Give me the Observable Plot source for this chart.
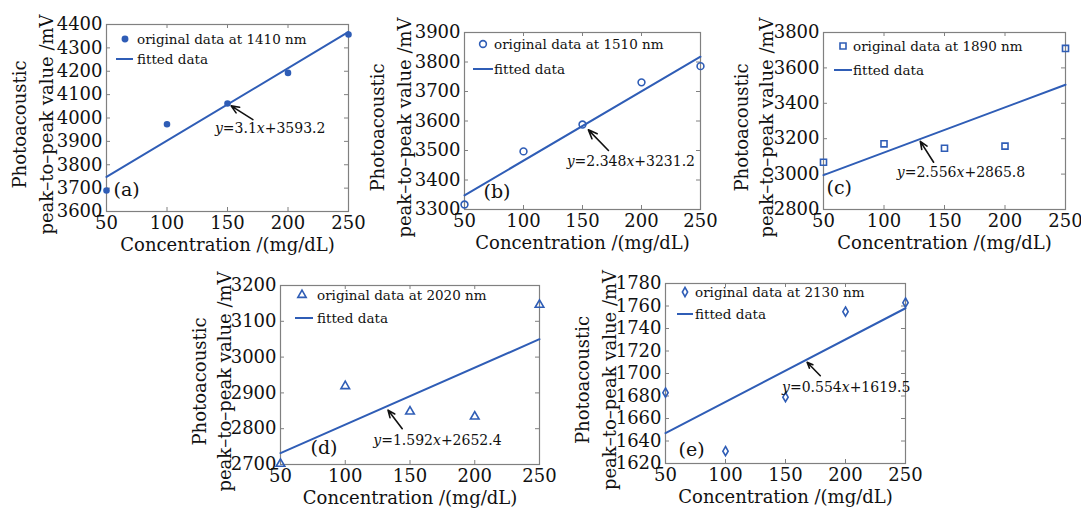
<!DOCTYPE html>
<html>
<head>
<meta charset="utf-8">
<script src="https://cdn.jsdelivr.net/npm/d3@7"></script>
<script src="https://cdn.jsdelivr.net/npm/@observablehq/plot@0.6"></script>
<style>
  html, body { margin: 0; padding: 0; background: #fff; }
  #wrap { position: relative; width: 1081px; height: 515px; overflow: hidden; background: #fff; }
  #wrap > div, #wrap > svg { position: absolute; }
</style>
</head>
<body>
<div id="wrap"></div>
<script>
// ---------------- data ----------------
const concentrations = [50, 100, 150, 200, 250];

const values1410 = [3690, 3973, 4062, 4193, 4357];
const values1510 = [3317, 3497, 3588, 3731, 3786];
const values1890 = [3067, 3171, 3146, 3158, 3710];
const values2020 = [2702, 2919, 2848, 2834, 3146];
const values2130 = [1683, 1631, 1679, 1755, 1763];

// fitted line end values (at 50 and 250 mg/dL)
const fitEnds = [50, 250];
const fit1410 = [3748, 4368];
const fit1510 = [3348, 3818];
const fit1890 = [2994, 3505];
const fit2020 = [2732, 3050];
const fit2130 = [1647, 1758];

const wavelengths = ["1410", "1510", "1890", "2020", "2130"];
const panelLetters = ["(a)", "(b)", "(c)", "(d)", "(e)"];
const equations = [
  ["y", "=3.1", "x", "+3593.2"],
  ["y", "=2.348", "x", "+3231.2"],
  ["y", "=2.556", "x", "+2865.8"],
  ["y", "=1.592", "x", "+2652.4"],
  ["y", "=0.554", "x", "+1619.5"]
];
// annotation: [tail x, tail y, tip x, tip y, text x, text y] in data units
const arrows = [
  [171, 3993, 153, 4052, 140, 3955],
  [172, 3500, 155, 3570, 137, 3463],
  [141, 3067, 130, 3185, 111, 3009],
  [144, 2800, 133, 2852, 122, 2767],
  [179, 1698, 168, 1710, 147.5, 1687.5]
];
const yTicks1410 = [3600, 3700, 3800, 3900, 4000, 4100, 4200, 4300, 4400];
const yTicks1510 = [3300, 3400, 3500, 3600, 3700, 3800, 3900];
const yTicks1890 = [2800, 3000, 3200, 3400, 3600, 3800];
const yTicks2020 = [2700, 2800, 2900, 3000, 3100, 3200];
const yTicks2130 = [1620, 1640, 1660, 1680, 1700, 1720, 1740, 1760, 1780];
const xTicks = [50, 100, 150, 200, 250];

const yTitleLines = ["Photoacoustic", "peak–to–peak value /mV"];
const xTitle = "Concentration /(mg/dL)";

const seriesValues = [values1410, values1510, values1890, values2020, values2130];
const seriesFits = [fit1410, fit1510, fit1890, fit2020, fit2130];
const seriesYTicks = [yTicks1410, yTicks1510, yTicks1890, yTicks2020, yTicks2130];
const symbols = ["circle", "circle", "square", "triangle", "diamond"];

// ---------------- layout ----------------
const BLUE = "#2f5db6";
const FRAME = "#808080";
const FONT = "'DejaVu Serif', 'Liberation Serif', serif";
const layout = [
  {left: 0,   top: 0,   w: 360, h: 260, ml: 106, mr: 12, mt: 24, mb: 49, lab: [7, -16], leg: [19, 15, 10, 27, 35, 31], yt: [-86, -59]},
  {left: 360, top: 0,   w: 355, h: 260, ml: 104, mr: 15, mt: 32, mb: 51, lab: [19, -12], leg: [19, 12, 9, 29, 37, 30], yt: [-86, -59]},
  {left: 720, top: 0,   w: 361, h: 260, ml: 103, mr: 16, mt: 32, mb: 51, lab: [3, -16], leg: [20, 14, 11, 29, 38, 30], yt: [-81, -56]},
  {left: 180, top: 260, w: 370, h: 255, ml: 100, mr: 11, mt: 25, mb: 51, lab: [30, -11], leg: [22, 10, 15, 33, 33, 37], yt: [-80, -55]},
  {left: 550, top: 260, w: 370, h: 255, ml: 115, mr: 15, mt: 23, mb: 52, lab: [13, -8], leg: [20, 9, 12, 28, 31, 30], yt: [-82, -55]}
];

const wrap = document.getElementById("wrap");

seriesValues.forEach((vals, i) => {
  const L = layout[i];
  const yt = seriesYTicks[i];
  const pts = concentrations.map((c, k) => ({x: c, y: vals[k]}));
  const fit = fitEnds.map((c, k) => ({x: c, y: seriesFits[i][k]}));
  const a = arrows[i];
  const sym = symbols[i];
  const filled = i === 0;
  const frameW = L.w - L.ml - L.mr;
  const frameH = L.h - L.mt - L.mb;

  const legendMark = (index, scales, values, dims) => {
    const g = d3.create("svg:g");
    const x0 = dims.marginLeft, y0 = dims.marginTop;
    const [mx, my, lx1, lx2, ly, tx] = L.leg;
    const symType = {circle: d3.symbolCircle, square: d3.symbolSquare, triangle: d3.symbolTriangle, diamond: d3.symbolDiamond}[sym];
    const area = filled ? 22 : (sym === "diamond" ? 24 : (sym === "triangle" ? 30 : 36));
    g.append("path")
      .attr("d", d3.symbol(symType, area)())
      .attr("transform", `translate(${x0 + mx},${y0 + my})`)
      .attr("fill", filled ? BLUE : "none")
      .attr("stroke", BLUE).attr("stroke-width", 1.6);
    g.append("line")
      .attr("x1", x0 + lx1).attr("x2", x0 + lx2)
      .attr("y1", y0 + ly).attr("y2", y0 + ly)
      .attr("stroke", BLUE).attr("stroke-width", 2);
    g.append("text").attr("x", x0 + tx).attr("y", y0 + my).attr("dy", "0.35em")
      .attr("text-anchor", "start")
      .attr("font-family", FONT).attr("font-size", 13.5).attr("fill", "#111")
      .text(`original data at ${wavelengths[i]} nm`);
    g.append("text").attr("x", x0 + tx).attr("y", y0 + ly).attr("dy", "0.35em")
      .attr("text-anchor", "start")
      .attr("font-family", FONT).attr("font-size", 13.5).attr("fill", "#111")
      .text("fitted data");
    return g.node();
  };

  const eqMark = (index, scales) => {
    const t = d3.create("svg:text")
      .attr("x", scales.x(a[4])).attr("y", scales.y(a[5])).attr("dy", "0.35em")
      .attr("text-anchor", "start")
      .attr("font-family", FONT).attr("font-size", 14).attr("fill", "#111");
    equations[i].forEach((s, k) => {
      t.append("tspan").attr("font-style", k % 2 === 0 ? "italic" : "normal").text(s);
    });
    return t.node();
  };

  const yTitleMark = (index, scales, values, dims) => {
    const g = d3.create("svg:g");
    const cy = dims.marginTop + (dims.height - dims.marginTop - dims.marginBottom) / 2 + 7;
    yTitleLines.forEach((s, k) => {
      g.append("text")
        .attr("transform", `translate(${dims.marginLeft + L.yt[k]},${cy}) rotate(-90)`)
        .attr("text-anchor", "middle").attr("dy", "0.35em")
        .attr("font-family", FONT).attr("font-size", 18).attr("fill", "#111")
        .text(s);
    });
    return g.node();
  };

  const plot = Plot.plot({
    width: L.w, height: L.h,
    marginLeft: L.ml, marginRight: L.mr, marginTop: L.mt, marginBottom: L.mb,
    style: {fontFamily: FONT, background: "transparent", color: "#111", overflow: "visible"},
    x: {domain: [50, 250]},
    y: {domain: [yt[0], yt[yt.length - 1]]},
    marks: [
      Plot.tickX(xTicks, {x: d => d, insetTop: frameH - 4, stroke: FRAME}),
      Plot.tickX(xTicks, {x: d => d, insetBottom: frameH - 4, stroke: FRAME}),
      Plot.tickY(yt, {y: d => d, insetRight: frameW - 4, stroke: FRAME}),
      Plot.tickY(yt, {y: d => d, insetLeft: frameW - 4, stroke: FRAME}),
      Plot.frame({stroke: FRAME, strokeWidth: 1.2}),
      Plot.axisX({ticks: xTicks, tickSize: 0, tickPadding: 5, fontSize: 18, label: null, tickFormat: d => String(d)}),
      Plot.axisY({ticks: yt, tickSize: 0, tickPadding: 4, fontSize: 18, label: null, tickFormat: d => String(d)}),
      Plot.text([xTitle], {frameAnchor: "bottom", dy: 39, fontSize: 18, fill: "#111", text: d => d}),
      yTitleMark,
      Plot.text([panelLetters[i]], {frameAnchor: "bottom-left", textAnchor: "start", dx: L.lab[0], dy: L.lab[1], fontSize: 19, fill: "#111", text: d => d}),
      Plot.line(fit, {x: "x", y: "y", stroke: BLUE, strokeWidth: 2}),
      Plot.dot(pts, {x: "x", y: "y", symbol: sym, r: filled ? 2.5 : (sym === "diamond" ? 2.8 : (sym === "triangle" ? 3.2 : 3.4)),
        fill: filled ? BLUE : "none", stroke: BLUE, strokeWidth: 1.6}),
      Plot.arrow([a], {x1: d => d[0], y1: d => d[1], x2: d => d[2], y2: d => d[3], stroke: "#111", strokeWidth: 1.6, headLength: 10, headAngle: 45}),
      eqMark,
      legendMark
    ]
  });
  plot.style.left = L.left + "px";
  plot.style.top = L.top + "px";
  wrap.appendChild(plot);
});
</script>
</body>
</html>
